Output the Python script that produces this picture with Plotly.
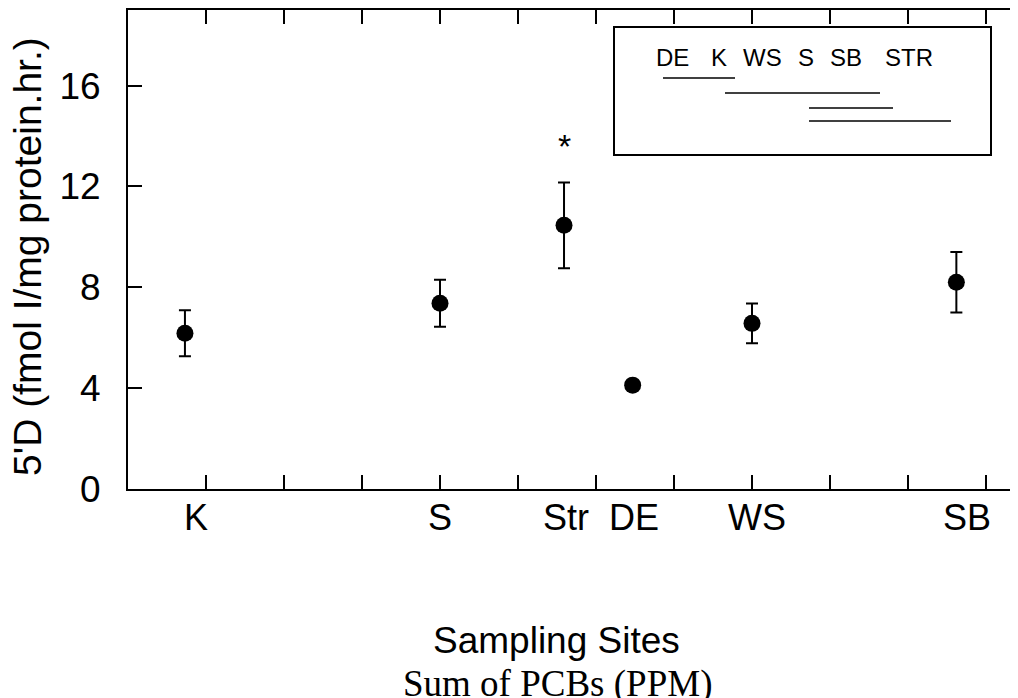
import plotly.graph_objects as go

# ---- data ----
sites = ["K", "S", "Str", "DE", "WS", "SB"]
pcb_pos = [0.73, 4.0, 5.59, 6.47, 8.0, 10.62]      # point position on "Sum of PCBs" axis
label_pos = [0.87, 4.0, 5.62, 6.49, 8.07, 10.76]   # where each site name is printed
activity = [6.18, 7.37, 10.46, 4.12, 6.57, 8.20]   # 5'D activity
activity_err = [0.91, 0.93, 1.70, None, 0.79, 1.20]
y_ticks = [0, 4, 8, 12, 16]
x_ticks = list(range(1, 12))
legend_sites = ["DE", "K", "WS", "S", "SB", "STR"]
signif_site = "Str"

# ---- geometry (page pixels; the page body adds an 8px margin) ----
OFF = 8
W, H = 1018 - OFF, 698 - OFF
L_PAGE, T_PAGE, B_PAGE, R_PAGE = 128, 10, 489, 1018
L, T, B = L_PAGE - OFF, T_PAGE - OFF, B_PAGE - OFF
PW = (R_PAGE - OFF) - L
PH = B - T
X_RANGE = [0, PW / 78.0]
Y_RANGE = [0, 19]


def px(xp):
    return (xp - OFF - L) / PW


def py(yp):
    return (B - (yp - OFF)) / PH


SANS = "Liberation Sans, Arial, sans-serif"
SERIF = "Liberation Serif, Times New Roman, serif"

fig = go.Figure()
fig.add_trace(go.Scatter(
    x=pcb_pos, y=activity, mode="markers",
    marker=dict(size=17, color="black"),
    error_y=dict(type="data", array=activity_err, visible=True,
                 color="black", thickness=2, width=6),
    showlegend=False, cliponaxis=False,
))

annotations = []
# site labels under the axis
for s, xv in zip(sites, label_pos):
    annotations.append(dict(x=xv, xref="x", y=py(517), yref="paper", text=s,
                            showarrow=False, xanchor="center", yanchor="middle",
                            font=dict(family=SANS, size=36, color="black")))
# significance asterisk
si = sites.index(signif_site)
annotations.append(dict(x=pcb_pos[si], xref="x", y=py(146), yref="paper", text="*",
                        showarrow=False, xanchor="center", yanchor="middle",
                        font=dict(family=SANS, size=34, color="black")))
# axis titles
annotations.append(dict(x=px(556), xref="paper", y=py(640), yref="paper",
                        text="Sampling Sites", showarrow=False,
                        xanchor="center", yanchor="middle",
                        font=dict(family=SANS, size=37, color="black")))
annotations.append(dict(x=px(557), xref="paper", y=py(684), yref="paper",
                        text="Sum of PCBs (PPM)", showarrow=False,
                        xanchor="center", yanchor="middle",
                        font=dict(family=SERIF, size=37, color="black")))
annotations.append(dict(x=px(27), xref="paper", y=py(257), yref="paper",
                        text="5'D (fmol I/mg protein.hr.)", showarrow=False,
                        textangle=-90, xanchor="center", yanchor="middle",
                        font=dict(family=SANS, size=39, color="black")))
# legend-like box text
legend_x = [672, 719, 762, 806, 846, 909]
for s, xp in zip(legend_sites, legend_x):
    annotations.append(dict(x=px(xp), xref="paper", y=py(58), yref="paper",
                            text=s, showarrow=False, xanchor="center", yanchor="middle",
                            font=dict(family=SANS, size=24, color="black")))

shapes = []
shapes.append(dict(type="rect", xref="paper", yref="paper",
                   x0=px(614), x1=px(991), y0=py(27), y1=py(155),
                   line=dict(color="black", width=2), fillcolor="rgba(0,0,0,0)"))
for (x0, x1, yp) in [(663, 735, 78), (725, 880, 93), (809, 893, 108), (809, 951, 121)]:
    shapes.append(dict(type="line", xref="paper", yref="paper",
                       x0=px(x0), x1=px(x1), y0=py(yp), y1=py(yp),
                       line=dict(color="black", width=1.5)))
# right-side tick marks (right spine lies just beyond the picture)
for yv in y_ticks[1:]:
    shapes.append(dict(type="line", xref="paper", yref="y",
                       x0=px(1012), x1=1.0, y0=yv, y1=yv,
                       line=dict(color="black", width=2)))

fig.update_layout(
    width=W, height=H, autosize=False,
    margin=dict(l=L, r=0, t=T, b=H - B, pad=0),
    plot_bgcolor="white", paper_bgcolor="white",
    annotations=annotations, shapes=shapes,
    xaxis=dict(range=X_RANGE, tickvals=x_ticks, showticklabels=False,
               ticks="inside", ticklen=14, tickwidth=2, tickcolor="black",
               showline=True, linecolor="black", linewidth=2, mirror="ticks",
               showgrid=False, zeroline=False),
    yaxis=dict(range=Y_RANGE, tickvals=y_ticks,
               ticks="inside", ticklen=14, tickwidth=2, tickcolor="black",
               showline=True, linecolor="black", linewidth=2, mirror=False,
               showgrid=False, zeroline=False, ticklabelstandoff=18,
               tickfont=dict(family=SANS, size=37, color="black")),
)

fig.write_html("out.html")
